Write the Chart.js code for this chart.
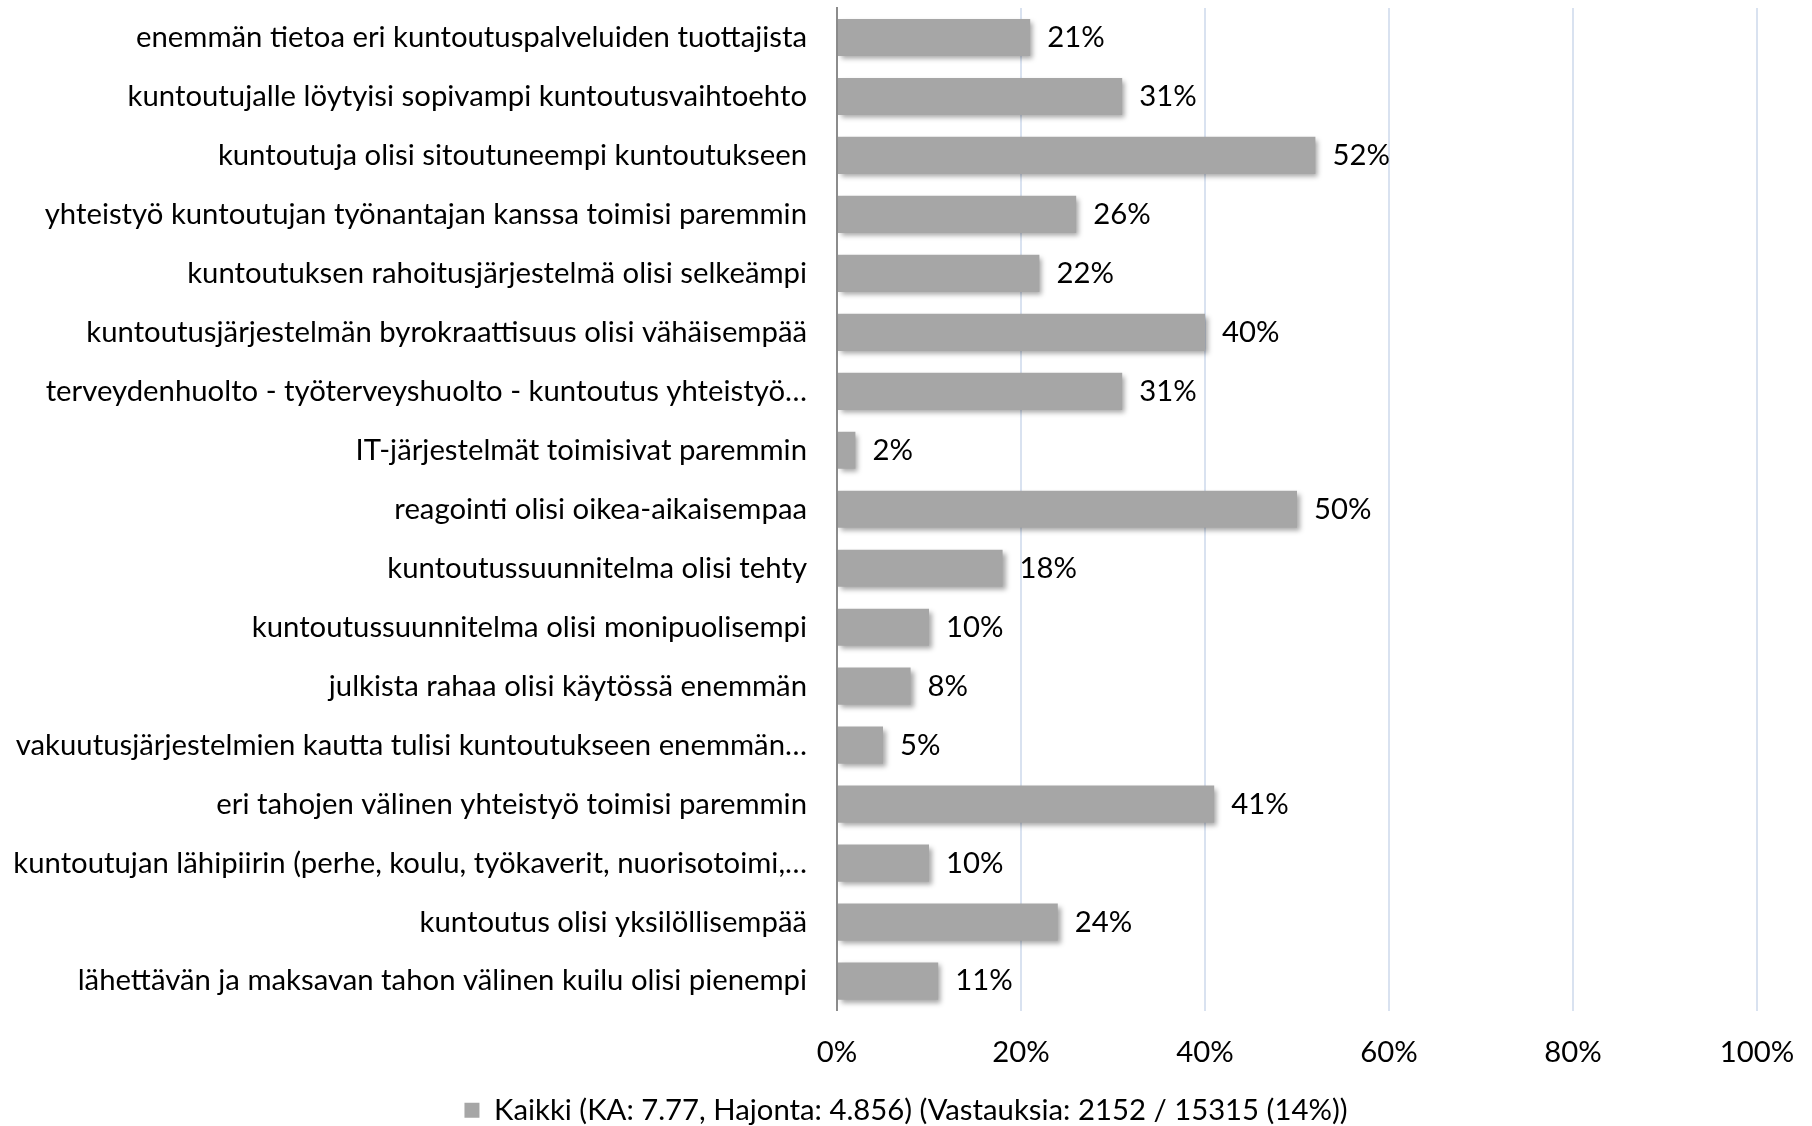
<!DOCTYPE html>
<html>
<head>
<meta charset="utf-8">
<script src="https://cdn.jsdelivr.net/npm/chart.js@4"></script>
<style>
    html, body { margin: 0; padding: 0; background: #fff; }
    #wrap { width: 1812px; height: 1126px; }
</style>
</head>
<body>
<div id="wrap"><canvas id="barChart"></canvas></div>
<script>
// Data
const categories = [
    'enemmän tietoa eri kuntoutuspalveluiden tuottajista',
    'kuntoutujalle löytyisi sopivampi kuntoutusvaihtoehto',
    'kuntoutuja olisi sitoutuneempi kuntoutukseen',
    'yhteistyö kuntoutujan työnantajan kanssa toimisi paremmin',
    'kuntoutuksen rahoitusjärjestelmä olisi selkeämpi',
    'kuntoutusjärjestelmän byrokraattisuus olisi vähäisempää',
    'terveydenhuolto - työterveyshuolto - kuntoutus yhteistyö…',
    'IT-järjestelmät toimisivat paremmin',
    'reagointi olisi oikea-aikaisempaa',
    'kuntoutussuunnitelma olisi tehty',
    'kuntoutussuunnitelma olisi monipuolisempi',
    'julkista rahaa olisi käytössä enemmän',
    'vakuutusjärjestelmien kautta tulisi kuntoutukseen enemmän…',
    'eri tahojen välinen yhteistyö toimisi paremmin',
    'kuntoutujan lähipiirin (perhe, koulu, työkaverit, nuorisotoimi,…',
    'kuntoutus olisi yksilöllisempää',
    'lähettävän ja maksavan tahon välinen kuilu olisi pienempi'
];
const values = [21, 31, 52, 26, 22, 40, 31, 2, 50, 18, 10, 8, 5, 41, 10, 24, 11];
const seriesLabel = 'Kaikki (KA: 7.77, Hajonta: 4.856) (Vastauksia: 2152 / 15315 (14%))';
const xTicks = [0, 20, 40, 60, 80, 100];

const FONT = 'Lato, "Noto Sans", sans-serif';
const FONT_SIZE = 29.3;

// Soft drop shadow under the bars, then value labels at the bar ends
const barShadowAndLabels = {
    id: 'barShadowAndLabels',
    beforeDatasetsDraw(chart) {
        const ctx = chart.ctx;
        ctx.save();
        ctx.shadowColor = 'rgba(0, 0, 0, 0.35)';
        ctx.shadowBlur = 5;
        ctx.shadowOffsetX = 3;
        ctx.shadowOffsetY = 3;
    },
    afterDatasetsDraw(chart) {
        const ctx = chart.ctx;
        ctx.restore();
        ctx.save();
        ctx.font = `${FONT_SIZE}px ${FONT}`;
        ctx.fillStyle = '#000';
        ctx.textAlign = 'left';
        ctx.textBaseline = 'middle';
        chart.getDatasetMeta(0).data.forEach((bar, i) => {
            ctx.fillText(values[i] + '%', bar.x + 17, bar.y);
        });
        ctx.restore();
    }
};

new Chart(document.getElementById('barChart').getContext('2d'), {
    type: 'bar',
    data: {
        labels: categories,
        datasets: [{
            label: seriesLabel,
            data: values,
            backgroundColor: '#a6a6a6',
            borderWidth: 0,
            barPercentage: 0.63,
            categoryPercentage: 1.0
        }]
    },
    options: {
        indexAxis: 'y',
        responsive: true,
        maintainAspectRatio: false,
        animation: false,
        layout: { padding: { top: 8, right: 0, left: 0, bottom: -9 } },
        plugins: {
            legend: {
                position: 'bottom',
                labels: {
                    color: '#000',
                    font: { family: FONT, size: FONT_SIZE },
                    boxWidth: 15,
                    boxHeight: 15,
                    padding: 2
                }
            },
            tooltip: { enabled: false }
        },
        scales: {
            x: {
                min: 0,
                max: 100,
                afterBuildTicks: scale => { scale.ticks = xTicks.map(v => ({ value: v })); },
                // keep the plot's right edge where the reference has it, legend stays full width
                afterFit: scale => { scale.paddingLeft = 0; scale.paddingRight = 55; },
                ticks: {
                    color: '#000',
                    font: { family: FONT, size: FONT_SIZE },
                    padding: 24,
                    callback: v => v + '%'
                },
                grid: { color: '#d9e2f0', lineWidth: 2, drawTicks: false },
                border: { display: false }
            },
            y: {
                afterFit: scale => {
                    scale.width = 837;
                    scale.paddingTop = 0;
                    scale.paddingBottom = 0;
                },
                ticks: {
                    color: '#000',
                    font: { family: FONT, size: FONT_SIZE },
                    padding: 30,
                    autoSkip: false
                },
                grid: { display: false, drawTicks: false },
                border: { display: true, color: '#8c8c8c', width: 2 }
            }
        }
    },
    plugins: [barShadowAndLabels]
});
</script>
</body>
</html>
